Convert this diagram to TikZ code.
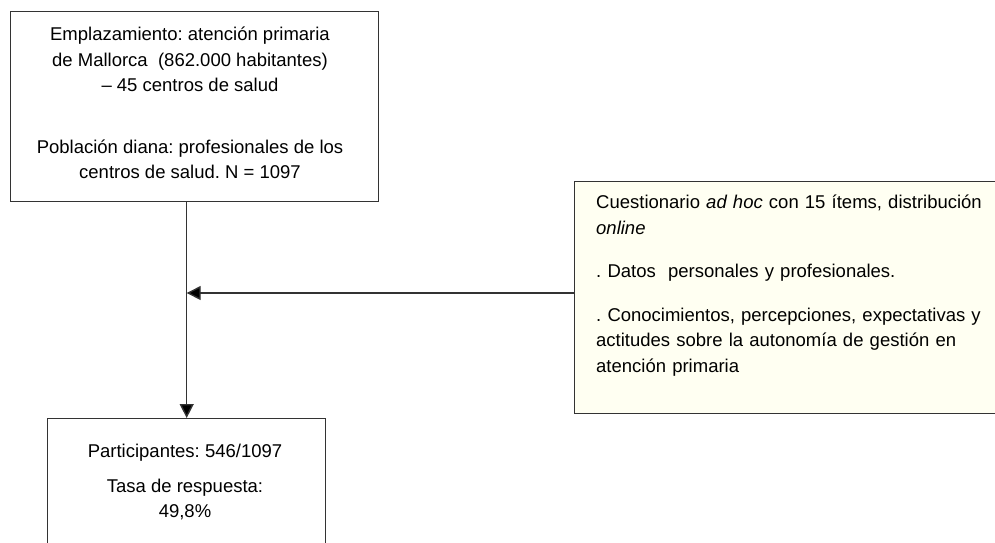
\documentclass[tikz,border=0pt]{standalone}
\usepackage{fontspec}
\setmainfont{Liberation Sans}
\usetikzlibrary{arrows.meta,positioning}
\frenchspacing

\definecolor{linegray}{RGB}{51,51,51}
\definecolor{notefill}{RGB}{255,255,242}

\tikzset{
  box/.style={draw=linegray, line width=1.4pt, fill=white, inner sep=0pt},
  txt/.style={font=\fontsize{18.5}{25.5}\selectfont, inner sep=0pt},
  flow/.style={draw=linegray, line width=1.4pt, -{Triangle[length=14pt,width=14pt,fill=black]}}
}

\begin{document}
\begin{tikzpicture}[x=1pt,y=-1pt]
   \clip (0,0) rectangle (995,542);
   \useasboundingbox (0,0) rectangle (995,542);
   % boxes
   \node[box, minimum width=368, minimum height=190, anchor=north west] (ambito) at (10,11) {};
   \node[box, fill=notefill, minimum width=440, minimum height=232, anchor=north west] (cuest) at (574,181) {};
   \node[box, minimum width=278, minimum height=130, anchor=north west] (part) at (47,418) {};
   % texts
   \node[txt, align=center] (ambitotxt) at (190,103) {Emplazamiento: atención primaria\\
      de Mallorca~~(862.000 habitantes)\\
      – 45 centros de salud\\[36pt]
      Población diana: profesionales de los\\
      centros de salud. N = 1097};
   \node[txt, align=left, text width=430, anchor=north west] (cuesttxt) at (596,195) {Cuestionario \textit{ad hoc} con 15 ítems, distribución\\
      \textit{online}\\[18pt]
      . Datos~~personales y profesionales.\\[18pt]
      . Conocimientos, percepciones, expectativas y\\
      actitudes sobre la autonomía de gestión en\\
      atención primaria};
   \node[txt, align=center] (parttxt) at (185,482) {Participantes: 546/1097\\[9pt]
      Tasa de respuesta:\\
      49,8\%};
   % connectors
   \coordinate (junta) at (part.north |- 0,293);
   \draw[flow] (ambito.south -| part.north) -- (part.north);
   \draw[flow] (junta -| cuest.west) -- (junta);
\end{tikzpicture}
\end{document}
